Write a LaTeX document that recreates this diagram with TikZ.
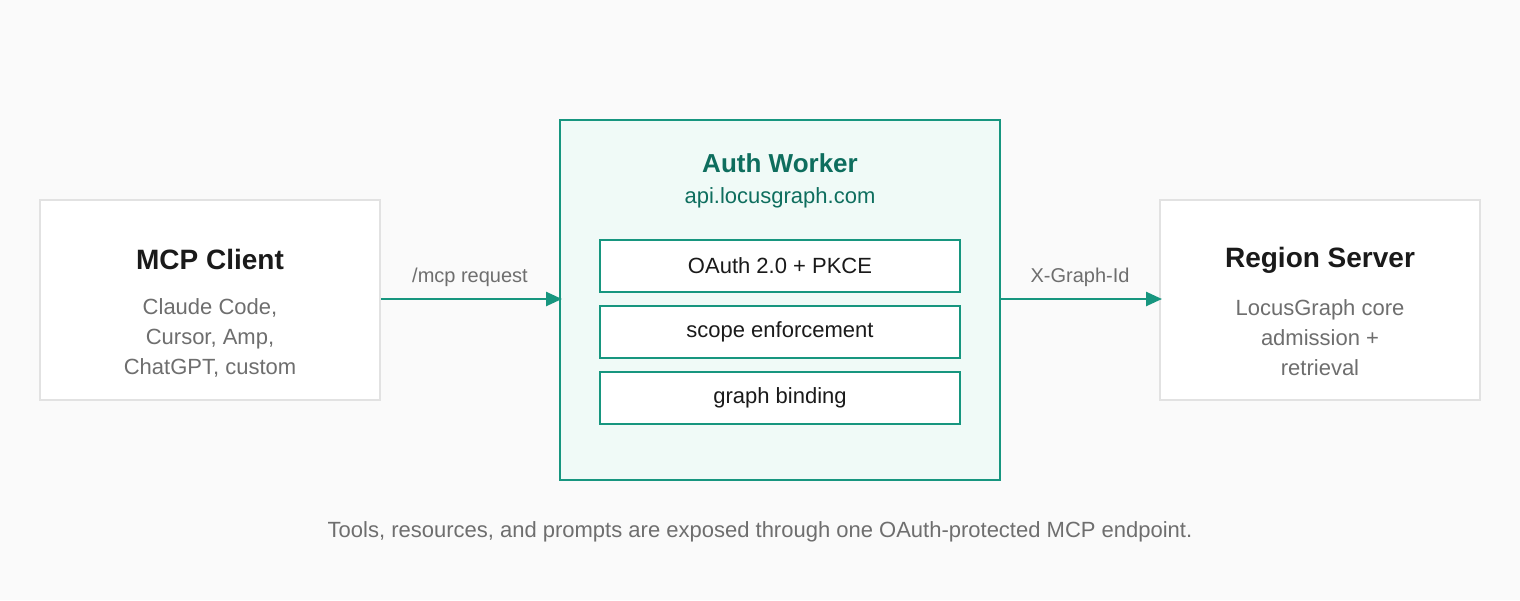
\documentclass[tikz,border=0pt]{standalone}
\usepackage{fontspec}
\setmainfont{Liberation Sans}
\usetikzlibrary{arrows.meta}
\definecolor{bg}{HTML}{FAFAFA}
\definecolor{teal}{HTML}{17967F}
\definecolor{tealdark}{HTML}{0E6E5E}
\definecolor{tealfill}{HTML}{F0FAF7}
\definecolor{graybd}{HTML}{E2E2E2}
\definecolor{graytx}{HTML}{6E6E6E}
\definecolor{ink}{HTML}{1A1A1A}
\begin{document}
\begin{tikzpicture}[x=1pt,y=-1pt,
  outer/.style={draw=graybd,line width=2.5pt,fill=white},
  inner/.style={draw=teal,line width=1.6pt,fill=white},
  title/.style={font=\fontsize{28}{32}\selectfont\bfseries,text=ink},
  sub/.style={font=\fontsize{22}{30}\selectfont,text=graytx,align=center},
  itxt/.style={font=\fontsize{22}{26}\selectfont,text=ink},
  lab/.style={font=\fontsize{20}{24}\selectfont,text=graytx},
  arr/.style={draw=teal,line width=2.5pt,-{Triangle[length=16pt,width=14pt]}}]
\fill[bg] (0,0) rectangle (1520,600);
\useasboundingbox (0,0) rectangle (1520,600);
\draw[outer] (40,200) rectangle (380,400);
\node[title] (mcp) at (210,259) {MCP Client};
\node[sub] (mcps) at (210,338) {Claude Code,\\Cursor, Amp,\\ChatGPT, custom};
\draw[outer] (1160,200) rectangle (1480,400);
\node[title] (reg) at (1320,260) {Region Server};
\node[sub] (regs) at (1320,338) {LocusGraph core\\admission +\\retrieval};
\draw[draw=teal,line width=2.5pt,fill=tealfill] (560,120) rectangle (1000,480);
\node[font=\fontsize{26}{30}\selectfont\bfseries,text=tealdark] (aw) at (780,163) {Auth Worker};
\node[font=\fontsize{22}{26}\selectfont,text=tealdark] (awu) at (780,198) {api.locusgraph.com};
\node[inner,minimum width=360pt,minimum height=52pt] (o) at (780,266) {};
\node[itxt] at (o) {OAuth 2.0 + PKCE};
\node[inner,minimum width=360pt,minimum height=52pt] (s) at (780,332) {};
\node[itxt] at (s) {scope enforcement};
\node[inner,minimum width=360pt,minimum height=52pt] (g) at (780,398) {};
\node[itxt] at (g) {graph binding};
\coordinate (a1) at (381,299); \coordinate (a2) at (562,299);
\coordinate (b1) at (1001,299); \coordinate (b2) at (1162,299);
\draw[arr] (a1) -- (a2);
\draw[arr] (b1) -- (b2);
\node[lab] (l1) at (470,277) {/mcp request};
\node[lab] (l2) at (1080,277) {X-Graph-Id};
\node[font=\fontsize{22}{26}\selectfont,text=graytx] (cap) at (760,532) {Tools, resources, and prompts are exposed through one OAuth-protected MCP endpoint.};
\end{tikzpicture}
\end{document}
